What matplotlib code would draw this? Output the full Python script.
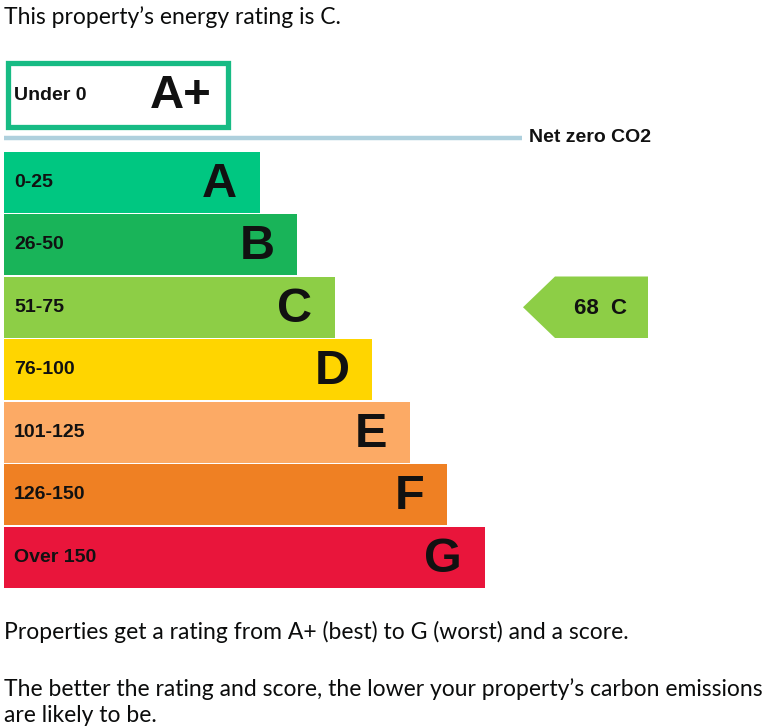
import matplotlib.pyplot as plt
from matplotlib.patches import Polygon, Rectangle

# band data
letters = ["A", "B", "C", "D", "E", "F", "G"]
ranges = ["0-25", "26-50", "51-75", "76-100", "101-125", "126-150", "Over 150"]
colors = ["#00c781", "#19b459", "#8dce46", "#ffd500", "#fcaa65", "#ef8023", "#e9153b"]
top_letter = "A+"
top_range = "Under 0"
top_color = "#17bb84"
score = 68
rating = "C"

title = "This property\u2019s energy rating is C."
note1 = "Properties get a rating from A+ (best) to G (worst) and a score."
note2 = "The better the rating and score, the lower your property\u2019s carbon emissions"
note3 = "are likely to be."

body_font = ["Lato", "DejaVu Sans"]
bold_font = ["Liberation Sans", "DejaVu Sans"]

fig = plt.figure(figsize=(7.84, 7.28), dpi=100)
ax = fig.add_axes([0, 0, 1, 1])
ax.set_xlim(0, 784)
ax.set_ylim(728, 0)
ax.axis("off")

# layout (pixels)
x0 = 4
row_h = 62.5
first_top = 151
widths = [256 + 37.5 * i for i in range(len(letters))]
centers = [first_top + row_h * (i + 0.5) for i in range(len(letters))]

ax.barh(centers, widths, left=x0, height=row_h - 1.2, color=colors, linewidth=0)

for i in range(len(letters)):
    ax.text(x0 + 10, centers[i], ranges[i], fontsize=14, fontweight="bold",
            family=bold_font, va="center", ha="left", color="#111111")
    ax.text(x0 + widths[i] - 23, centers[i] + 2, letters[i], fontsize=35,
            fontweight="bold", family=bold_font, va="center", ha="right",
            color="#111111")

# A+ box
ax.add_patch(Rectangle((8.5, 62.5), 220, 64, facecolor="white",
                       edgecolor=top_color, linewidth=3.8))
ax.text(14, 95, top_range, fontsize=14, fontweight="bold", family=bold_font,
        va="center", ha="left", color="#111111")
ax.text(212, 96, top_letter, fontsize=34, fontweight="bold", family=bold_font,
        va="center", ha="right", color="#111111")

# net zero line
ax.plot([x0, 522], [137.5, 137.5], color="#aed0dd", linewidth=3.2,
        solid_capstyle="butt")
ax.text(529, 138, "Net zero CO2", fontsize=14, fontweight="bold",
        family=bold_font, va="center", ha="left", color="#111111")

# current rating arrow
idx = letters.index(rating)
yc = centers[idx]
top = yc - row_h / 2 + 0.5
bot = yc + row_h / 2 - 0.5
arrow = Polygon([(523, yc), (555, top), (648, top), (648, bot), (555, bot)],
                closed=True, facecolor=colors[idx], edgecolor="none")
ax.add_patch(arrow)
ax.text(601, yc + 1, f"{score}  {rating}", fontsize=16, fontweight="bold",
        family=bold_font, va="center", ha="center", color="#111111")

# texts
ax.text(x0, 17, title, fontsize=16.5, family=body_font, va="center",
        ha="left", color="#0b0c0c")
ax.text(x0, 632, note1, fontsize=16.5, family=body_font, va="center",
        ha="left", color="#0b0c0c")
ax.text(x0, 689, note2, fontsize=16.5, family=body_font, va="center",
        ha="left", color="#0b0c0c")
ax.text(x0, 715, note3, fontsize=16.5, family=body_font, va="center",
        ha="left", color="#0b0c0c")

fig.savefig("out.png", dpi=100, facecolor="white")
